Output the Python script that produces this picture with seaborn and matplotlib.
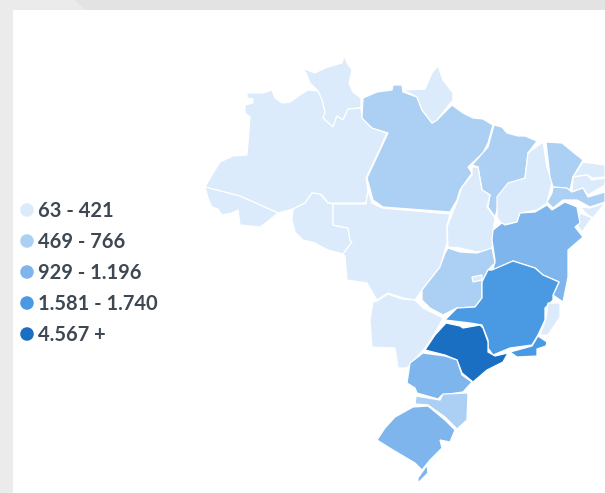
import pandas as pd
import matplotlib
matplotlib.use('Agg')
import matplotlib.pyplot as plt
import seaborn as sns

# 图例分级
class_labels = ['63 - 421', '469 - 766', '929 - 1.196', '1.581 - 1.740', '4.567 +']
class_colors = ['#dbebfb', '#acd0f4', '#7db5ec', '#4a9ae3', '#1a6fc3']

# 各州所属分级
state_class = {
    'AM': 0, 'RR': 0, 'AP': 0, 'AC': 0, 'RO': 0, 'MT': 0, 'TO': 0, 'PI': 0, 'MS': 0,
    'RN': 0, 'PB': 0, 'AL': 0, 'SE': 0, 'ES': 0, 'DF': 0,
    'PA': 1, 'MA': 1, 'CE': 1, 'GO': 1, 'SC': 1, 'PE': 1,
    'BA': 2, 'PR': 2, 'RS': 2, 'RS2': 2,
    'MG': 3, 'RJ': 3,
    'SP': 4,
}

# 各州轮廓（按参考图描出来的）
state_outline = {
    'RR': [(302,68),(307,70),(315,73),(325,68),(342,63),(344,56),(347,63),(352,70),(349,83),(353,92),(361,98),(361,108),(348,109),(343,120),(337,116),(333,127),(323,118),(325,112),(322,100),(318,91),(310,83),(306,73)],
    'AM': [(247,93),(263,93),(272,90),(275,98),(282,103),(290,102),(300,95),(308,90),(318,91),(322,100),(325,112),(323,118),(333,127),(337,116),(343,120),(348,109),(361,108),(362,118),(372,128),(387,133),(378,153),(366,178),(368,190),(366,203),(328,203),(322,195),(312,193),(305,203),(293,209),(278,213),(240,196),(205,187),(212,175),(220,162),(233,156),(247,155),(250,117),(245,113),(245,105),(253,103),(253,99),(247,98)],
    'AC': [(205,187),(240,196),(278,213),(267,222),(260,227),(240,225),(238,210),(232,213),(222,215),(218,209),(212,207),(208,198)],
    'RO': [(293,209),(305,203),(312,193),(320,194),(328,203),(333,204),(333,225),(348,228),(350,240),(352,242),(343,254),(328,250),(315,243),(303,240),(295,232),(292,220)],
    'MT': [(333,204),(366,204),(368,190),(372,203),(382,208),(450,214),(447,226),(447,243),(440,267),(422,290),(415,300),(403,298),(388,293),(377,300),(367,283),(347,280),(345,256),(343,254),(352,242),(350,240),(348,228),(333,225)],
    'PA': [(363,98),(377,92),(392,90),(393,85),(402,85),(403,92),(417,97),(422,110),(432,123),(437,120),(452,105),(463,113),(473,118),(483,119),(493,125),(488,143),(483,153),(468,167),(472,173),(460,190),(457,200),(450,212),(383,207),(373,200),(367,178),(388,133),(372,128),(362,118)],
    'AP': [(403,90),(425,89),(432,73),(438,66),(443,80),(453,93),(453,100),(437,120),(432,123),(422,110),(417,97)],
    'MA': [(494,125),(502,127),(507,133),(518,136),(525,136),(537,141),(528,153),(525,178),(502,192),(495,217),(488,207),(490,195),(482,190),(478,167),(472,165),(488,147)],
    'TO': [(472,167),(478,167),(482,190),(490,195),(487,207),(495,218),(493,230),(492,250),(477,252),(460,248),(448,247),(447,227),(457,202),(462,187),(472,175)],
    'PI': [(543,142),(547,167),(552,182),(547,203),(537,210),(520,213),(517,222),(502,225),(497,217),(497,197),(508,183),(525,178),(528,153)],
    'CE': [(546,142),(562,143),(573,152),(583,160),(573,177),(570,190),(553,187),(550,177)],
    'RN': [(583,162),(605,165),(605,177),(593,178),(587,175),(573,177)],
    'PB': [(573,177),(587,175),(592,180),(605,178),(605,185),(588,195),(583,188),(572,192)],
    'PE': [(553,187),(567,188),(572,192),(583,188),(588,197),(605,192),(605,202),(590,207),(577,200),(563,200),(553,208),(547,202),(552,193)],
    'AL': [(580,207),(590,208),(605,203),(593,218),(588,215)],
    'SE': [(580,213),(592,218),(582,232),(577,225)],
    'BA': [(493,230),(502,223),(505,225),(517,222),(520,213),(535,212),(547,205),(552,210),(565,202),(577,207),(580,223),(575,227),(583,237),(568,250),(568,277),(563,302),(553,295),(559,282),(543,275),(535,268),(513,261),(493,270),(495,260),(492,240)],
    'GO': [(448,248),(460,252),(477,253),(492,248),(495,263),(488,270),(482,282),(482,298),(475,307),(457,308),(443,315),(430,308),(422,300),(422,290),(440,267),(445,253)],
    'DF': [(472,277),(482,275),(482,280),(473,282)],
    'MG': [(492,270),(513,261),(535,268),(543,275),(559,282),(553,295),(553,300),(545,308),(545,320),(538,335),(532,345),(510,348),(493,355),(488,348),(488,340),(482,325),(470,323),(445,320),(457,308),(475,307),(482,298),(482,282),(488,270)],
    'ES': [(548,303),(560,303),(560,317),(548,335),(540,335),(546,318)],
    'RJ': [(538,336),(547,342),(546,346),(537,349),(537,356),(517,357),(510,352),(532,346)],
    'SP': [(446,323),(460,326),(463,328),(480,325),(483,328),(488,342),(488,352),(495,356),(508,353),(503,362),(487,370),(473,382),(462,373),(457,360),(445,355),(425,350),(435,335)],
    'MS': [(377,301),(388,294),(402,299),(415,300),(423,308),(443,318),(435,333),(425,348),(407,368),(398,368),(395,348),(372,347),(370,320),(373,302)],
    'PR': [(423,353),(445,356),(457,360),(462,375),(472,382),(463,392),(442,395),(438,399),(417,393),(415,388),(407,383),(410,363)],
    'SC': [(416,396),(440,400),(443,394),(468,393),(467,420),(457,429),(445,417),(428,405),(415,404)],
    'RS': [(413,407),(428,406),(445,420),(455,430),(450,442),(440,440),(442,448),(430,460),(422,470),(415,463),(393,450),(377,440),(385,428),(395,417)],
    'RS2': [(427,465),(428,473),(418,483),(418,478),(425,468)],
}

sns.set_theme(style='white')
plt.rcParams['font.family'] = ['Lato', 'DejaVu Sans']

fig = plt.figure(figsize=(6.05, 4.93), dpi=100, facecolor='#ebebeb')
ax = fig.add_axes([0, 0, 1, 1])
ax.set_xlim(0, 605)
ax.set_ylim(493, 0)
ax.axis('off')

# 页面背景
ax.fill([75, 605, 605, 85], [0, 0, 10, 10], color='#e3e3e3', lw=0, zorder=0)
ax.fill([13, 605, 605, 13], [10, 10, 493, 493], color='white', lw=0, zorder=0)

# 地图
for state, outline in state_outline.items():
    xs = [p[0] for p in outline]
    ys = [p[1] for p in outline]
    ax.fill(xs, ys, facecolor=class_colors[state_class[state]], edgecolor='white', lw=0.9, zorder=2)

# 图例
legend_df = pd.DataFrame({'label': class_labels})
legend_df['x'] = 27
legend_df['y'] = [210 + 31 * i for i in range(len(legend_df))]
sns.scatterplot(data=legend_df, x='x', y='y', hue='label', palette=class_colors, s=95,
                linewidth=0, legend=False, ax=ax, zorder=3)
for _, row in legend_df.iterrows():
    ax.text(38, row['y'] + 1, row['label'], fontsize=14.5, fontweight='bold', color='#3d4852',
            va='center', ha='left')
ax.set_xlim(0, 605)
ax.set_ylim(493, 0)
ax.axis('off')

fig.savefig('out.png', dpi=100, facecolor=fig.get_facecolor())
